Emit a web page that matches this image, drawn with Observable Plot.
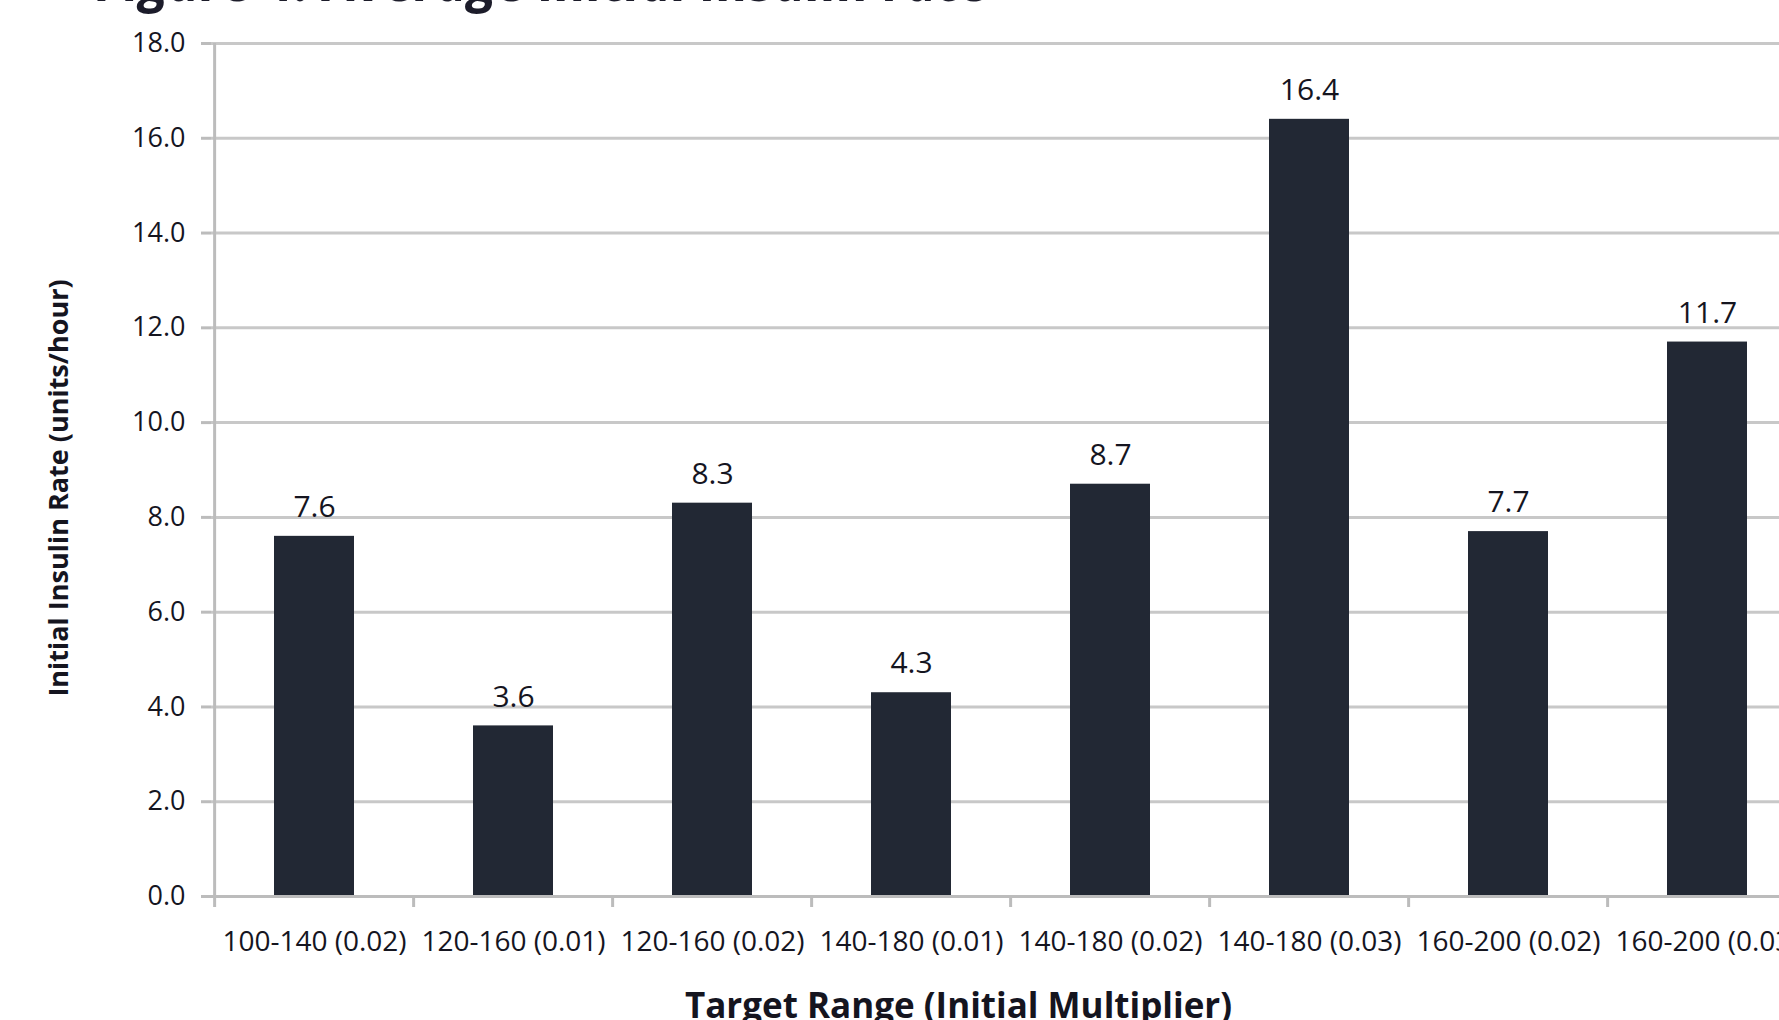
<!DOCTYPE html>
<html>
<head>
<meta charset="utf-8">
<script src="https://cdn.jsdelivr.net/npm/d3@7"></script>
<script src="https://cdn.jsdelivr.net/npm/@observablehq/plot@0.6"></script>
<style>
  html, body { margin: 0; padding: 0; background: #fff; overflow: hidden; }
  body { position: relative; width: 1779px; height: 1020px; }
  #title { position: absolute; left: 96px; top: -46px; font: italic 700 53px/53px "Open Sans", sans-serif; color: #1c1c2a; white-space: nowrap; z-index: 2; }
  #chart { position: absolute; left: 0; top: 0; }
  #chart svg { max-width: none !important; }
</style>
</head>
<body>
<div id="chart"></div>
<div id="title">Figure 4: Average initial insulin rate</div>
<script>
const categories = ["100-140 (0.02)", "120-160 (0.01)", "120-160 (0.02)", "140-180 (0.01)", "140-180 (0.02)", "140-180 (0.03)", "160-200 (0.02)", "160-200 (0.03)"];
const values = [7.6, 3.6, 8.3, 4.3, 8.7, 16.4, 7.7, 11.7];
const yTicks = [0, 2, 4, 6, 8, 10, 12, 14, 16, 18];
const xTitle = "Target Range (Initial Multiplier)";
const yTitle = "Initial Insulin Rate (units/hour)";

const data = categories.map((c, i) => ({label: c, value: values[i]}));

const W = 1809, ML = 211, MR = 0;
const step = (W - ML - MR) / categories.length;
const axisGray = "#bcbcbc";
const ink = "#15151f";

const chart = Plot.plot({
  width: W,
  height: 1020,
  marginLeft: ML,
  marginRight: MR,
  marginTop: 43,
  marginBottom: 124,
  style: {fontFamily: "'Open Sans', sans-serif", background: "white", color: ink, overflow: "visible", maxWidth: "none"},
  x: {domain: categories, paddingInner: 0.6, paddingOuter: 0.3, axis: null},
  y: {domain: [0, 18], axis: null},
  marks: [
    Plot.ruleY(yTicks, {stroke: "#c8c8c8", strokeWidth: 3}),
    Plot.barY(data, {x: "label", y: "value", fill: "#222834"}),
    Plot.ruleX([categories[0]], {x: d => d, dx: -step / 2, stroke: axisGray, strokeWidth: 3}),
    Plot.ruleY([0], {stroke: axisGray, strokeWidth: 3}),
    Plot.axisY({ticks: yTicks, tickSize: 10, tickPadding: 16, tickFormat: d3.format(".1f"), fontSize: 27, stroke: axisGray, strokeWidth: 3, fill: ink, label: null}),
    Plot.axisX({ticks: categories, tickSize: 11, dx: -step / 2, tickFormat: () => "", stroke: axisGray, strokeWidth: 3, label: null}),
    Plot.text(data, {x: "label", frameAnchor: "bottom", dy: 46, lineAnchor: "middle", text: "label", fontSize: 28, fill: ink}),
    Plot.text(data, {x: "label", y: "value", dy: -29, lineAnchor: "middle", text: d => d3.format(".1f")(d.value), fontSize: 30, fill: ink}),
    Plot.text([xTitle], {frameAnchor: "bottom", dx: -52, dy: 110, lineAnchor: "middle", textAnchor: "middle", text: d => d, fontSize: 35, fontWeight: "bold", fill: ink}),
    Plot.text([yTitle], {frameAnchor: "left", dx: -152, dy: 18, rotate: -90, lineAnchor: "middle", textAnchor: "middle", text: d => d, fontSize: 27, fontWeight: "bold", fill: ink})
  ]
});
document.getElementById("chart").appendChild(chart);
</script>
</body>
</html>
